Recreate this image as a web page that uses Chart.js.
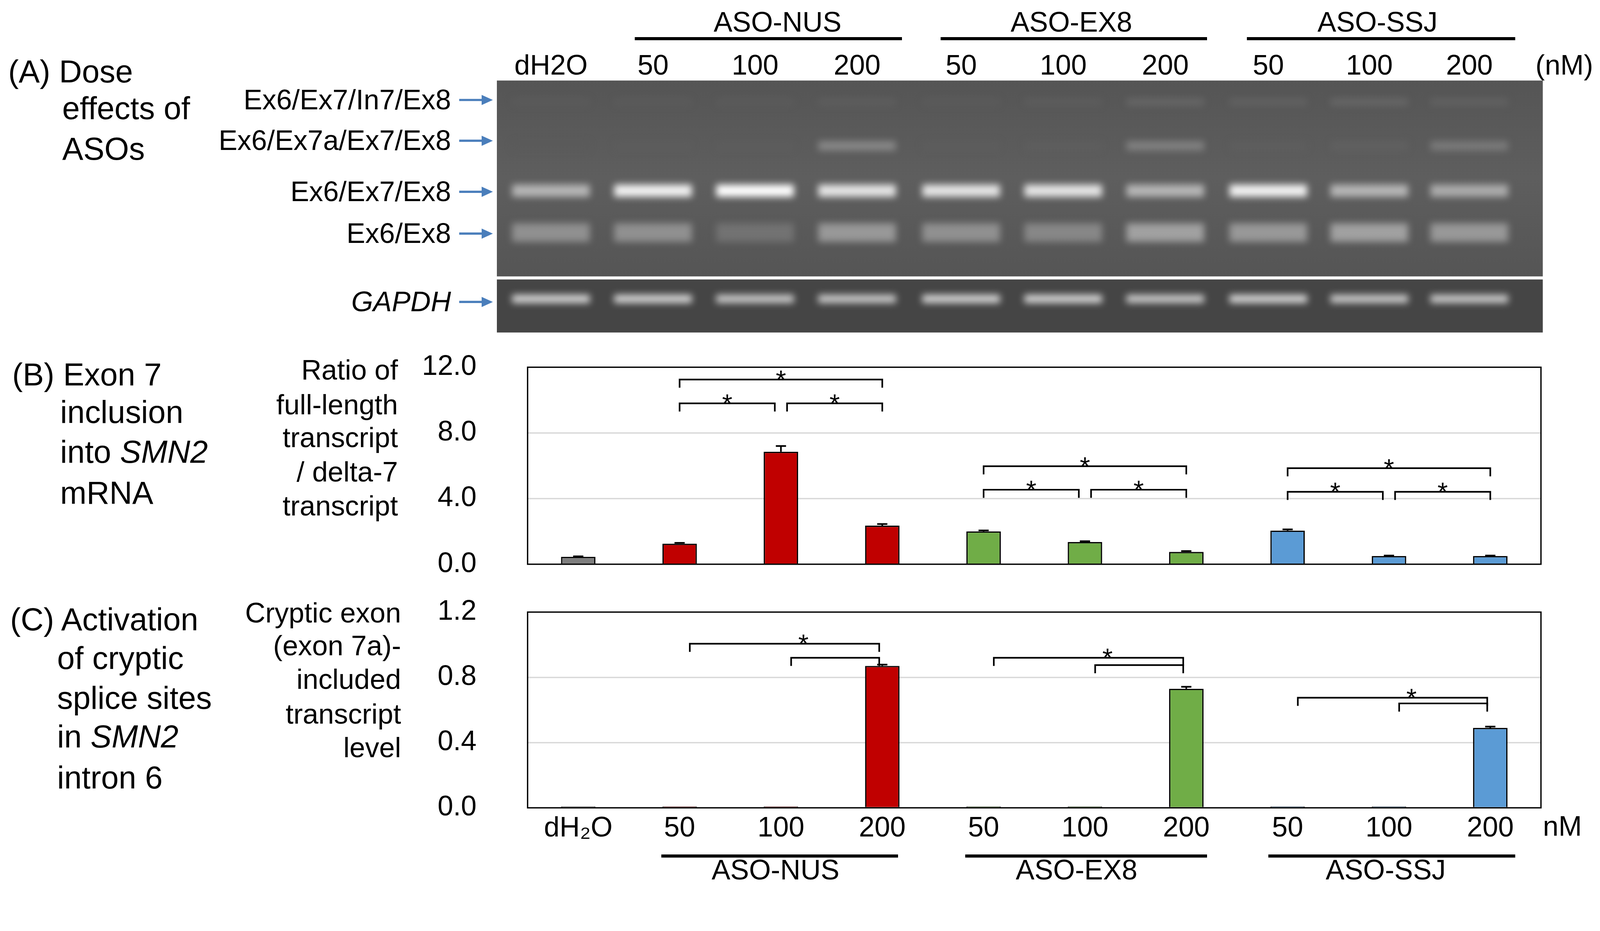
<!DOCTYPE html>
<html><head><meta charset="utf-8">
<script src="https://cdn.jsdelivr.net/npm/chart.js@4"></script>
<style>
html,body{margin:0;padding:0;background:#fff;width:100%;height:100%;overflow:hidden;font-family:"Liberation Sans",Arial,sans-serif;}
.t{position:absolute;white-space:nowrap;line-height:1;color:#000;}
canvas{position:absolute;}
</style></head><body>
<script>
const categories=["dH₂O","50","100","200","50","100","200","50","100","200"];
const groups=["ASO-NUS","ASO-EX8","ASO-SSJ"];
const ratioValues=[0.45,1.25,6.85,2.35,2.0,1.35,0.75,2.05,0.5,0.5];
const ratioErrors=[0.03,0.05,0.35,0.1,0.06,0.05,0.05,0.07,0.03,0.03];
const crypticValues=[0.008,0.008,0.008,0.87,0.008,0.008,0.73,0.008,0.008,0.49];
const crypticErrors=[0,0,0,0.008,0,0,0.012,0,0,0.008];
const ratioTicks=[0,4,8,12];
const crypticTicks=[0,0.4,0.8,1.2];
const barColors=["#7f7f7f","#c00000","#c00000","#c00000","#70ad47","#70ad47","#70ad47","#5b9bd5","#5b9bd5","#5b9bd5"];
// brackets: [fromIndex,toIndex,yValue,star]
const ratioBrackets=[[1,3,11.25,1],[1,2,9.8,1],[2,3,9.8,1],[4,6,5.97,1],[4,5,4.54,1],[5,6,4.54,1],[7,9,5.85,1],[7,8,4.41,1],[8,9,4.41,1]];
const crypticBrackets=[[1,3,1.006,1],[2,3,0.92,0],[4,6,0.92,1],[5,6,0.875,0],[7,9,0.675,1],[8,9,0.64,0]];
// gel band intensities per lane: [In7, 7a, main, Ex6/Ex8, GAPDH]
const gelBands=[
[0.05,0.0,0.7,0.5,0.85],[0.05,0.03,0.95,0.5,0.85],[0.05,0.03,1.0,0.3,0.8],[0.1,0.45,0.9,0.55,0.8],
[0.05,0.03,0.9,0.5,0.85],[0.08,0.05,0.9,0.45,0.85],[0.2,0.4,0.7,0.6,0.8],
[0.15,0.05,0.95,0.55,0.85],[0.2,0.1,0.7,0.6,0.8],[0.15,0.35,0.65,0.55,0.8]];

const S=Math.min(window.innerWidth/1568, window.innerHeight/872);
const FS=27.5, FL=31;
function T(txt,x,y,size,align,style){
  const d=document.createElement('div');d.className='t';d.innerHTML=txt;
  d.style.fontSize=(size*S)+'px';d.style.top=(y*S)+'px';
  let tx=align==='c'?'-50%':align==='r'?'-100%':'0';
  d.style.left=(x*S)+'px';d.style.transform=`translate(${tx},-50%)`;
  if(style)d.style.cssText+=style;document.body.appendChild(d);return d;}
function L(x1,x2,y,w){const d=document.createElement('div');d.style.cssText=`position:absolute;background:#000;left:${x1*S}px;top:${(y-w/2)*S}px;width:${(x2-x1)*S}px;height:${w*S}px`;document.body.appendChild(d);}

// ---- Panel A ----
const lanes=[540,640,740,840,942,1042,1142,1243,1342,1440];
T("ASO-NUS",762,22,FS,'c');T("ASO-EX8",1050,22,FS,'c');T("ASO-SSJ",1350,22,FS,'c');
L(622,884,38,3);L(922,1183,38,3);L(1222,1485,38,3);
T("dH2O",lanes[0],64,FS,'c');
for(let i=1;i<10;i++)T(categories[i],lanes[i],64,FS,'c');
T("(nM)",1533,64,FS,'c');
T("(A) Dose",8,70,FL,'l');T("effects of",61,106,FL,'l');T("ASOs",61,146,FL,'l');
const bandLabels=[["Ex6/Ex7/In7/Ex8",98],["Ex6/Ex7a/Ex7/Ex8",138],["Ex6/Ex7/Ex8",188],["Ex6/Ex8",229],["<i>GAPDH</i>",296]];
const arrows=document.createElement('canvas');arrows.width=Math.round(500*S);arrows.height=Math.round(330*S);arrows.style.left='0';arrows.style.top='0';document.body.appendChild(arrows);
const ac=arrows.getContext('2d');ac.strokeStyle=ac.fillStyle='#4a7ebb';ac.lineWidth=2.2*S;
for(const [lab,y] of bandLabels){T(lab,442,y,FS,'r');
 ac.beginPath();ac.moveTo(450*S,y*S);ac.lineTo(474*S,y*S);ac.stroke();
 ac.beginPath();ac.moveTo(483*S,y*S);ac.lineTo(472*S,(y-5)*S);ac.lineTo(472*S,(y+5)*S);ac.fill();}
// gel
const gel=document.createElement('canvas');gel.width=Math.round(1025*S);gel.height=Math.round(250*S);
gel.style.left=(487*S)+'px';gel.style.top=(77*S)+'px';document.body.appendChild(gel);
const g=gel.getContext('2d');g.scale(S,S);
const gr=g.createLinearGradient(0,0,0,194);gr.addColorStop(0,'#555');gr.addColorStop(0.5,'#5e5e5e');gr.addColorStop(1,'#555');
g.fillStyle=gr;g.fillRect(0,2,1025,192);g.fillStyle='#454545';g.fillRect(0,197,1025,52);
const bandY=[23,66,110,151,216],bandH=[7,9,12,18,8];
g.filter='blur('+(3.5*S)+'px)';
lanes.forEach((lx,i)=>{gelBands[i].forEach((v,b)=>{
  const c=Math.round(90+165*v);g.fillStyle=`rgba(${c},${c},${c},${0.3+0.7*v})`;
  g.fillRect(lx-487-38,bandY[b]-bandH[b]/2,76,bandH[b]);});});
g.filter='none';

// ---- Charts ----
function mkChart(top,h,values,errors,ticks,max,brackets,showX,xh){
  const cv=document.createElement('canvas');cv.style.left=(400*S)+'px';cv.style.top=(top*S)+'px';
  cv.width=Math.round(1120*S);cv.height=Math.round(h*S);document.body.appendChild(cv);
  const plug={id:'extra',afterDatasetsDraw(ch){
    const c=ch.ctx,xs=ch.scales.x,ys=ch.scales.y;c.save();c.strokeStyle='#000';c.lineWidth=1.6*S;
    values.forEach((v,i)=>{if(!errors[i])return;const x=xs.getPixelForValue(i),y1=ys.getPixelForValue(v),y2=ys.getPixelForValue(v+errors[i]);
      c.beginPath();c.moveTo(x,y1);c.lineTo(x,y2);c.moveTo(x-5*S,y2);c.lineTo(x+5*S,y2);c.stroke();});
    const drop=8*S,gap=6*S;
    brackets.forEach(([a,b,yv,star])=>{
      let x1=xs.getPixelForValue(a),x2=xs.getPixelForValue(b);const y=ys.getPixelForValue(yv);
      if(showX){x1+=10*S;x2-=3*S;} else { if(brackets.some(o=>o[1]===a&&o[2]===yv))x1+=gap; if(brackets.some(o=>o[0]===b&&o[2]===yv))x2-=gap;}
      c.beginPath();c.moveTo(x1,y+drop);c.lineTo(x1,y);c.lineTo(x2,y);c.lineTo(x2,y+drop);c.stroke();
      if(star){c.fillStyle='#000';c.font=(26*S)+'px "Liberation Sans"';c.textAlign='center';c.textBaseline='middle';
        c.fillText('*',(showX?(x1+x2)/2+(x2-x1)*0.1:(x1+x2)/2),y+2*S);}
    });
    const ar=ch.chartArea;
    c.fillStyle='#000';c.font=(FS*S)+'px "Liberation Sans"';c.textAlign='right';c.textBaseline='middle';
    ticks.forEach(v=>c.fillText(v.toFixed(1),ar.left-50*S,ys.getPixelForValue(v)));
    c.strokeStyle='#000';c.lineWidth=1.3*S;c.strokeRect(ar.left,ar.top,ar.right-ar.left,ar.bottom-ar.top);
    c.restore();}};
  return new Chart(cv,{type:'bar',data:{labels:categories,datasets:[{data:values,backgroundColor:barColors,borderColor:'#000',borderWidth:1.3*S,barPercentage:0.34,categoryPercentage:1}]},
    options:{responsive:false,animation:false,devicePixelRatio:1,
     layout:{padding:{top:30*S,right:10*S,bottom:0,left:0}},
     plugins:{legend:{display:false},tooltip:{enabled:false}},
     scales:{
      x:{display:true,grid:{display:false,drawTicks:false},border:{display:false},
         ticks:{display:showX,color:'#000',font:{size:FS*S,family:'Liberation Sans'},padding:4*S,maxRotation:0},afterFit:s=>{s.height=xh*S;}},
      y:{min:0,max:max,afterBuildTicks:s=>{s.ticks=ticks.map(v=>({value:v}));},
         grid:{color:ctx=>(ctx.tick&&ctx.tick.value>0&&ctx.tick.value<max)?'#d9d9d9':'rgba(0,0,0,0)',lineWidth:1.3*S,drawTicks:false},
         border:{display:false},
         ticks:{display:false},
         afterFit:s=>{s.width=117*S;}}}},
    plugins:[plug]});
}
mkChart(330,238,ratioValues,ratioErrors,ratioTicks,12,ratioBrackets,false,15);
mkChart(570,257,crypticValues,crypticErrors,crypticTicks,1.2,crypticBrackets,true,35);

[["(B) Exon 7",12,367],["inclusion",59,404],["into <i>SMN2</i>",59,443],["mRNA",59,483]].forEach(a=>T(a[0],a[1],a[2],FL,'l'));
[["Ratio of",363],["full-length",397],["transcript",429],["/ delta-7",463],["transcript",496]].forEach(a=>T(a[0],390,a[1],FS,'r'));
[["(C) Activation",10,607],["of cryptic",56,645],["splice sites",56,684],["in <i>SMN2</i>",56,722],["intron 6",56,762]].forEach(a=>T(a[0],a[1],a[2],FL,'l'));
[["Cryptic exon",601],["(exon 7a)-",633],["included",666],["transcript",700],["level",733]].forEach(a=>T(a[0],393,a[1],FS,'r'));
T("nM",1512,810,FS,'l');
L(648,880,839,3);L(946,1183,839,3);L(1243,1485,839,3);
T(groups[0],760,853,FS,'c');T(groups[1],1055,853,FS,'c');T(groups[2],1358,853,FS,'c');
</script></body></html>
